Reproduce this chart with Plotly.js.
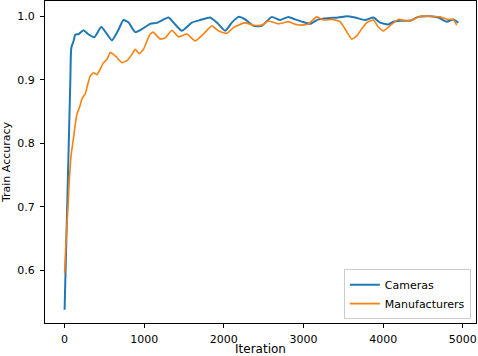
<!DOCTYPE html>
<html>
<head>
<meta charset="utf-8">
<script src="https://cdn.plot.ly/plotly-3.0.1.min.js"></script>
<style>
  html, body { margin: 0; padding: 0; background: #fff; }
  #accfig { width: 478px; height: 356px; }
</style>
</head>
<body>
<div id="accfig"></div>
<script>
// values
var cam_iter = [0, 72, 84, 113, 134, 176, 238, 294, 373, 460, 532, 595, 670, 740, 803, 887, 975, 1075, 1159, 1305, 1389, 1473, 1598, 1703, 1828, 1912, 2016, 2100, 2183, 2267, 2371, 2477, 2602, 2706, 2810, 2895, 2979, 3083, 3187, 3312, 3438, 3543, 3647, 3773, 3877, 3961, 4065, 4128, 4212, 4338, 4442, 4589, 4693, 4798, 4881, 4944];
var cam_acc = [0.538, 0.898, 0.950, 0.961, 0.971, 0.972, 0.978, 0.972, 0.967, 0.983, 0.972, 0.962, 0.977, 0.994, 0.990, 0.975, 0.980, 0.988, 0.9895, 0.998, 0.987, 0.977, 0.990, 0.994, 0.998, 0.990, 0.977, 0.990, 0.999, 0.995, 0.985, 0.985, 0.999, 0.994, 0.999, 0.995, 0.9915, 0.988, 0.995, 0.997, 0.998, 1.000, 0.998, 0.994, 0.998, 0.990, 0.987, 0.9915, 0.993, 0.993, 0.999, 1.000, 0.998, 0.9915, 0.995, 0.990];

var man_iter = [0, 18, 43, 59, 84, 113, 134, 156, 188, 218, 260, 281, 322, 364, 407, 448, 489, 532, 573, 615, 657, 720, 783, 846, 887, 937, 991, 1034, 1075, 1113, 1159, 1201, 1264, 1348, 1430, 1536, 1640, 1744, 1850, 1932, 2038, 2120, 2267, 2371, 2477, 2560, 2685, 2810, 2895, 2979, 3062, 3167, 3250, 3355, 3459, 3522, 3606, 3669, 3731, 3794, 3877, 3940, 4003, 4087, 4191, 4296, 4379, 4463, 4589, 4714, 4818, 4881, 4923];
var man_acc = [0.595, 0.647, 0.700, 0.741, 0.783, 0.809, 0.830, 0.846, 0.857, 0.870, 0.878, 0.888, 0.906, 0.911, 0.908, 0.917, 0.927, 0.932, 0.943, 0.940, 0.935, 0.927, 0.930, 0.940, 0.948, 0.941, 0.948, 0.961, 0.972, 0.975, 0.969, 0.964, 0.966, 0.978, 0.9675, 0.972, 0.961, 0.972, 0.985, 0.977, 0.973, 0.982, 0.990, 0.9855, 0.986, 0.9926, 0.988, 0.9915, 0.9875, 0.986, 0.988, 0.999, 0.994, 0.995, 0.9915, 0.980, 0.964, 0.969, 0.980, 0.990, 0.994, 0.983, 0.977, 0.985, 0.995, 0.9926, 0.995, 1.000, 1.000, 0.999, 0.995, 0.995, 0.986];

var fnt = 'DejaVu Sans, sans-serif';

var cams = { x: cam_iter, y: cam_acc, name: 'Cameras', mode: 'lines',
             line: { color: '#1f77b4', width: 2, shape: 'spline', smoothing: 0.5 } };
var mans = { x: man_iter, y: man_acc, name: 'Manufacturers', mode: 'lines',
             line: { color: '#ff7f0e', width: 1.6, shape: 'spline', smoothing: 0.4 } };

var layout = {
  width: 478, height: 356,
  margin: { l: 45, r: 2, t: 1, b: 33 },
  paper_bgcolor: '#fff', plot_bgcolor: '#fff',
  font: { family: fnt, size: 11, color: '#000' },
  showlegend: true,
  legend: {
    x: 0.988, xanchor: 'right', y: 0.012, yanchor: 'bottom',
    bordercolor: '#cccccc', borderwidth: 1, bgcolor: 'rgba(255,255,255,0.8)',
    font: { family: fnt, size: 11 },
    tracegroupgap: 0
  },
  xaxis: {
    range: [-246, 5166],
    tickvals: [0, 1000, 2000, 3000, 4000, 5000],
    showgrid: false, zeroline: false,
    showline: true, mirror: true, linecolor: '#000', linewidth: 1,
    ticks: 'outside', ticklen: 4, tickcolor: '#000',
    ticklabelstandoff: 2,
    tickfont: { family: fnt, size: 11 },
    title: { text: 'Iteration', font: { family: fnt, size: 12 }, standoff: 8 }
  },
  yaxis: {
    range: [0.517, 1.024],
    tickvals: [0.6, 0.7, 0.8, 0.9, 1.0],
    ticktext: ['0.6', '0.7', '0.8', '0.9', '1.0'],
    showgrid: false, zeroline: false,
    showline: true, mirror: true, linecolor: '#000', linewidth: 1,
    ticks: 'outside', ticklen: 4, tickcolor: '#000',
    ticklabelstandoff: 3,
    tickfont: { family: fnt, size: 11 },
    title: { text: 'Train Accuracy', font: { family: fnt, size: 11 }, standoff: 4 }
  }
};

Plotly.newPlot('accfig', [cams, mans], layout, { displayModeBar: false, staticPlot: true });
</script>
</body>
</html>
